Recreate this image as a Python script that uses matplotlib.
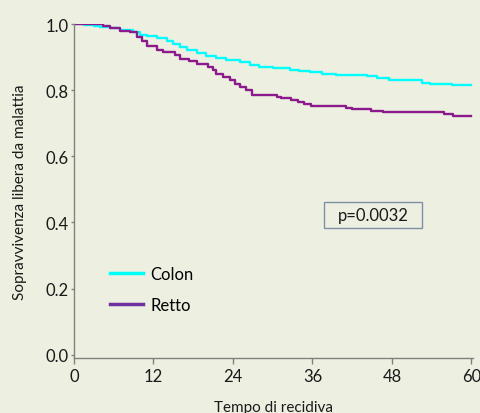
import matplotlib
matplotlib.use("Agg")
import matplotlib.pyplot as plt
from matplotlib.lines import Line2D
from matplotlib.patches import Rectangle

plt.rcParams['font.family'] = ['Lato', 'DejaVu Sans']

# Kaplan-Meier estimates (months, survival)
colon_t = [0, 1.5, 3, 4, 5.4, 7, 8.9, 10, 11, 12.5, 14, 15, 16, 17, 18.5, 20,
           21.5, 23, 25, 26.5, 28, 30, 32.6, 34, 35.6, 37.5, 39.6, 42, 44.2,
           45.7, 47.6, 51.1, 52.5, 53.7, 57.1, 60]
colon_s = [1.0, 0.997, 0.993, 0.99, 0.987, 0.982, 0.976, 0.968, 0.963, 0.957,
           0.95, 0.94, 0.93, 0.921, 0.912, 0.902, 0.896, 0.89, 0.884, 0.877,
           0.871, 0.866, 0.861, 0.857, 0.854, 0.85, 0.847, 0.845, 0.842, 0.836,
           0.831, 0.83, 0.821, 0.818, 0.816, 0.816]

retto_t = [0, 4.4, 5.4, 6.9, 8.4, 9.5, 10.3, 11, 12.5, 13.5, 14.5, 15.3, 16,
           17.3, 18.5, 20.2, 21, 21.5, 22.5, 23.5, 24.3, 25, 26, 26.9, 30.6,
           31.3, 32.8, 33.8, 34.8, 35.8, 38.3, 41, 41.9, 44.9, 46.7, 55.9,
           57.2, 60]
retto_s = [1.0, 0.995, 0.988, 0.978, 0.975, 0.962, 0.948, 0.934, 0.922, 0.916,
           0.914, 0.905, 0.894, 0.888, 0.879, 0.869, 0.86, 0.849, 0.84, 0.831,
           0.82, 0.809, 0.80, 0.786, 0.780, 0.776, 0.771, 0.763, 0.758, 0.753,
           0.751, 0.746, 0.743, 0.737, 0.733, 0.728, 0.723, 0.723]

x_ticks = [0, 12, 24, 36, 48, 60]
y_ticks = [0.0, 0.2, 0.4, 0.6, 0.8, 1.0]

bg = '#edf0e1'
colon_color = '#00ffff'
retto_color = '#8c1a8c'

fig = plt.figure(figsize=(4.81, 4.14), dpi=100, facecolor=bg)
ax = fig.add_axes([0.1538, 0.1329, 0.829, 0.8067], facecolor=bg)

ax.step(colon_t, colon_s, where='post', color=colon_color, lw=1.7)
ax.step(retto_t, retto_s, where='post', color=retto_color, lw=1.7)

ax.set_xlim(0, 60.2)
ax.set_ylim(-0.01, 1.0)
ax.set_xticks(x_ticks)
ax.set_yticks(y_ticks)
ax.set_yticklabels([f'{v:.1f}' for v in y_ticks])

for s in ['top', 'right']:
    ax.spines[s].set_visible(False)
for s in ['left', 'bottom']:
    ax.spines[s].set_color('#808080')
    ax.spines[s].set_linewidth(1.0)

ax.tick_params(axis='x', length=4, width=1, color='#808080', labelsize=12,
               labelcolor='#1a1a1a', pad=3)
ax.tick_params(axis='y', length=2, width=1, color='#808080', labelsize=12,
               labelcolor='#1a1a1a', pad=2)

ax.set_xlabel('Tempo di recidiva', fontsize=11, color='#1a1a1a', labelpad=12)
ax.set_ylabel('Sopravvivenza libera da malattia', fontsize=11,
              color='#1a1a1a', labelpad=13)

handles = [Line2D([], [], color=colon_color, lw=2.5),
           Line2D([], [], color='#7030a0', lw=2.5)]
ax.legend(handles, ['Colon', 'Retto'], loc='upper left',
          bbox_to_anchor=(0.052, 0.32), frameon=False, fontsize=12,
          handlelength=2.0, handletextpad=0.45, labelspacing=0.9)

# p-value box
ax.add_patch(Rectangle((0.627, 0.389), 0.246, 0.078, transform=ax.transAxes,
                       facecolor=bg, edgecolor='#7f8fa6', linewidth=1.0,
                       zorder=3))
ax.text(0.75, 0.428, 'p=0.0032', transform=ax.transAxes, fontsize=12,
        ha='center', va='center', color='#1a1a1a', zorder=4)

fig.savefig('out.png', dpi=100, facecolor=bg)
